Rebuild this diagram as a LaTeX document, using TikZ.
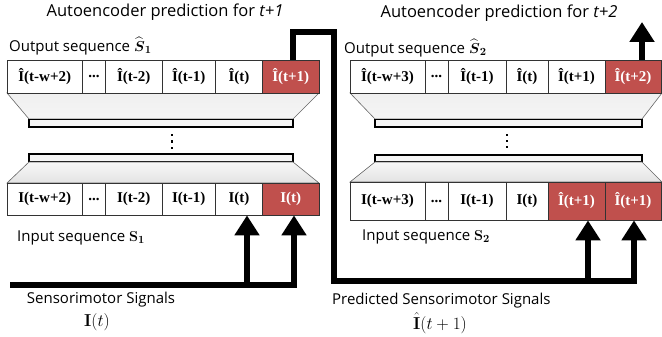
\documentclass[tikz,border=0pt]{standalone}
\usepackage{amsmath}
\usepackage[no-math]{fontspec}
\setmainfont{Open Sans}
\newfontfamily\cellfont{Liberation Serif}
\usetikzlibrary{arrows.meta}
\definecolor{cellred}{HTML}{C0504D}
\tikzset{
  cell/.style={draw=black!80, line width=0.8pt, fill=white, inner sep=0pt, anchor=center,
    font=\cellfont\bfseries\fontsize{15}{17}\selectfont},
  redcell/.style={cell, fill=cellred, text=white},
  lbl/.style={font=\fontsize{15}{18}\selectfont, inner sep=0pt},
  ttl/.style={font=\fontsize{16.5}{19}\selectfont, inner sep=0pt},
  mathlbl/.style={font=\fontsize{17}{20}\selectfont, inner sep=0pt},
  flowarrow/.style={line width=6pt, line join=miter, -{Triangle[width=24pt,length=20pt]}},
  funnel/.style={draw=black!60, line width=0.6pt, top color=gray!12, bottom color=gray!8},
  funnelb/.style={draw=black!60, line width=0.6pt, top color=gray!6, bottom color=gray!22},
  bar/.style={draw=black, line width=1.3pt, fill=gray!8},
}
\begin{document}
\begin{tikzpicture}[x=1pt,y=-1pt]
\useasboundingbox (0,0) rectangle (662,337);

% ---------- left block ----------
\path[funnel] (7,93) -- (319,93) -- (293,119) -- (29,119) -- cycle;
\path[bar] (29,119.5) rectangle (293,127);
\path[bar] (29,154) rectangle (293,161.5);
\path[funnelb] (29,162) -- (293,162) -- (319,183) -- (7,183) -- cycle;
\foreach \yy in {135,141.5,148} \fill (170.5,\yy-1.3) rectangle ++(2.8,2.6);

\node[cell, minimum width=75.5pt, minimum height=33pt] (lo1) at (44.75,76.5) {Î(t-w+2)};
\node[cell, minimum width=23pt,   minimum height=33pt] (lo2) at (94,76.5) {...};
\node[cell, minimum width=56.5pt, minimum height=33pt] (lo3) at (133.75,76.5) {Î(t-2)};
\node[cell, minimum width=53.5pt, minimum height=33pt] (lo4) at (188.75,76.5) {Î(t-1)};
\node[cell, minimum width=47pt,   minimum height=33pt] (lo5) at (239,76.5) {Î(t)};
\node[redcell, minimum width=56.5pt, minimum height=33pt] (lo6) at (290.75,76.5) {Î(t+1)};

\node[cell, minimum width=75.5pt, minimum height=32pt] (li1) at (44.75,199) {I(t-w+2)};
\node[cell, minimum width=23pt,   minimum height=32pt] (li2) at (94,199) {...};
\node[cell, minimum width=56.5pt, minimum height=32pt] (li3) at (133.75,199) {I(t-2)};
\node[cell, minimum width=53.5pt, minimum height=32pt] (li4) at (188.75,199) {I(t-1)};
\node[cell, minimum width=47pt,   minimum height=32pt] (li5) at (239,199) {I(t)};
\node[redcell, minimum width=56.5pt, minimum height=32pt] (li6) at (290.75,199) {I(t)};

% ---------- right block ----------
\path[funnel] (350,93) -- (662,93) -- (642,119) -- (375,119) -- cycle;
\path[bar] (375,119.5) rectangle (642,127);
\path[bar] (375,155) rectangle (642,162);
\path[funnelb] (375,162) -- (642,162) -- (662,182) -- (350,182) -- cycle;
\foreach \yy in {135,141,147} \fill (505.5,\yy-1.3) rectangle ++(2.8,2.6);

\node[cell, minimum width=75pt, minimum height=33pt] (ro1) at (387.5,76.5) {Î(t-w+3)};
\node[cell, minimum width=23pt, minimum height=33pt] (ro2) at (436.5,76.5) {...};
\node[cell, minimum width=58pt, minimum height=33pt] (ro3) at (477,76.5) {Î(t-1)};
\node[cell, minimum width=42pt, minimum height=33pt] (ro4) at (527,76.5) {Î(t)};
\node[cell, minimum width=57pt, minimum height=33pt] (ro5) at (576.5,76.5) {Î(t+1)};
\node[redcell, minimum width=56pt, minimum height=33pt] (ro6) at (633,76.5) {Î(t+2)};

\node[cell, minimum width=75pt, minimum height=38pt] (ri1) at (387.5,201) {I(t-w+3)};
\node[cell, minimum width=23pt, minimum height=38pt] (ri2) at (436.5,201) {...};
\node[cell, minimum width=58pt, minimum height=38pt] (ri3) at (477,201) {I(t-1)};
\node[cell, minimum width=42pt, minimum height=38pt] (ri4) at (527,201) {I(t)};
\node[redcell, minimum width=57pt, minimum height=38pt] (ri5) at (576.5,201) {Î(t+1)};
\node[redcell, minimum width=56pt, minimum height=38pt] (ri6) at (633,201) {Î(t+1)};

% ---------- labels ----------
\node[ttl] (t1) at (165,12) {Autoencoder prediction for \textit{t+1}};
\node[ttl] (t2) at (499,13) {Autoencoder prediction for \textit{t+2}};
\node[lbl, anchor=west] (os1) at (9,46) {Output sequence $\widehat{\boldsymbol{S}}_{\mathbf{1}}$};
\node[lbl, anchor=west] (os2) at (344,48) {Output sequence $\widehat{\boldsymbol{S}}_{\mathbf{2}}$};
\node[lbl, anchor=west] (is1) at (17,238) {Input sequence $\mathbf{S}_{\mathbf{1}}$};
\node[lbl, anchor=west] (is2) at (362,237) {Input sequence $\mathbf{S}_{\mathbf{2}}$};
\node[lbl] (ss) at (101,300) {Sensorimotor Signals};
\node[mathlbl] (ssm) at (97,322) {$\mathbf{I}(t)$};
\node[lbl, anchor=west] (ps) at (332,301) {Predicted Sensorimotor Signals};
\node[mathlbl] (psm) at (440,323) {$\hat{\mathbf{I}}(t+1)$};

% ---------- connectors ----------
\coordinate (s0) at (10,285);
\coordinate (s1) at (294,285);
\coordinate (s2) at (247,285);
\draw[flowarrow] (s0) -- (s1) -- (s1 |- li6.south);
\draw[flowarrow] (s2) -- (s2 |- li5.south);

\coordinate (j1) at (293,32);
\coordinate (j2) at (334,32);
\coordinate (j3) at (334,281);
\coordinate (j4) at (634,281);
\coordinate (j5) at (588,281);
\draw[flowarrow] (lo6.north -| j1) -- (j1) -- (j2) -- (j3) -- (j4) -- (j4 |- ri6.south);
\draw[flowarrow] (j5) -- (j5 |- ri5.south);

\coordinate (top) at (642,22);
\draw[flowarrow] (ro6.north -| top) -- (top);
\end{tikzpicture}
\end{document}
